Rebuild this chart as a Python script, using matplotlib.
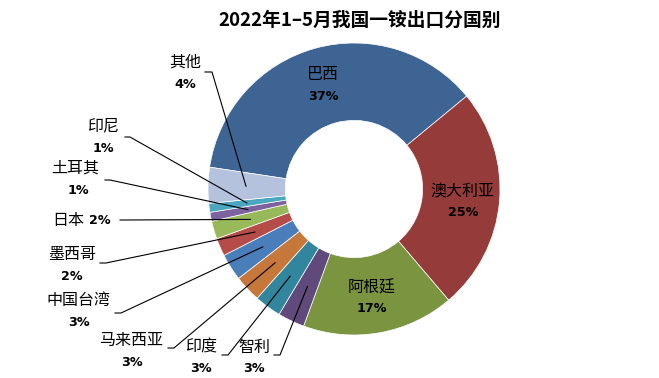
import numpy as np
import matplotlib.pyplot as plt

plt.rcParams['font.family'] = ['Noto Sans CJK SC', 'DejaVu Sans']

title = '2022年1–5月我国一铵出口分国别'
countries = ['巴西', '澳大利亚', '阿根廷', '智利', '印度', '马来西亚',
             '中国台湾', '墨西哥', '日本', '土耳其', '印尼', '其他']
shares = [37, 25, 17, 3, 3, 3, 3, 2, 2, 1, 1, 4]
colors = ['#3E6493', '#953C3B', '#7B9440', '#604A7B', '#31859C', '#C6783A',
          '#4A7EBB', '#B54C4A', '#98B95A', '#7D62A0', '#4BA7C0', '#B4C2DE']

W, H = 659, 378
fig = plt.figure(figsize=(W / 100, H / 100), dpi=100)
ax = fig.add_axes([0, 0, 1, 1])

# pie in pixel coords (y measured from bottom)
cx, cy, R = 354, 189, 146
wedges, _ = ax.pie(shares, colors=colors, startangle=171.4, counterclock=False,
                   center=(cx, cy), radius=R, frame=True,
                   wedgeprops=dict(width=R * 0.53, edgecolor='white', linewidth=0.5))
ax.set_xlim(0, W)
ax.set_ylim(0, H)
ax.axis('off')

def py(y):
    return H - y

fig.text(0.5465, 1 - 20 / H, title, ha='center', va='center',
         fontsize=13.5, fontweight='bold')

name_kw = dict(ha='center', va='center', fontsize=11.5, fontweight='medium')
pct_kw = dict(ha='center', va='center', fontsize=9.2, fontweight='bold',
              family='DejaVu Sans')

# labels inside the ring: name xy, pct xy (pixels)
inside = {'巴西': ((323, 74), (323, 96)),
          '澳大利亚': ((462, 192), (463, 213)),
          '阿根廷': ((372, 288), (372, 309))}

# labels outside: name xy, pct xy, leader start, leader elbow
outside = {'其他': ((185, 62), (185, 84), (205, 72), (212, 72)),
           '印尼': ((103, 126), (103, 148), (125, 137), (130, 137)),
           '土耳其': ((75, 168), (78, 190), (105, 180), (110, 180)),
           '日本': ((68, 220), (100, 220), (120, 220), (124, 220)),
           '墨西哥': ((72, 254), (72, 276), (100, 263), (106, 263)),
           '中国台湾': ((78, 300), (79, 323), (115, 313), (121, 313)),
           '马来西亚': ((131, 340), (132, 362), (168, 348), (174, 348)),
           '印度': ((201, 347), (201, 368), (222, 355), (228, 355)),
           '智利': ((254, 347), (254, 368), (274, 355), (280, 355))}

for w, name, val in zip(wedges, countries, shares):
    pct = f'{val}%'
    if name in inside:
        (nx, ny), (qx, qy) = inside[name]
        ax.text(nx, py(ny), name, **name_kw)
        ax.text(qx, py(qy), pct, **pct_kw)
        continue
    (nx, ny), (qx, qy), (sx, sy), (ex, ey) = outside[name]
    ax.text(nx, py(ny), name, **name_kw)
    ax.text(qx, py(qy), pct, **pct_kw)
    mid = np.deg2rad((w.theta1 + w.theta2) / 2)
    ax_, ay_ = cx + 0.74 * R * np.cos(mid), cy + 0.74 * R * np.sin(mid)
    ax.plot([sx, ex, ax_], [py(sy), py(ey), ay_], color='black', lw=0.8)

fig.savefig('out.png', dpi=100)
